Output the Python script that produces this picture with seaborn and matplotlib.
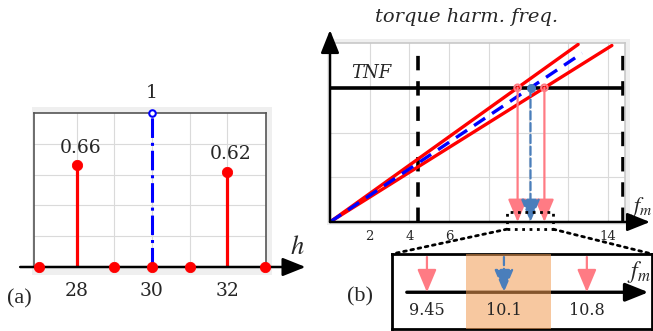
import matplotlib
matplotlib.use('Agg')
import matplotlib.pyplot as plt
import numpy as np
import pandas as pd
import seaborn as sns
from matplotlib.patches import Rectangle, ConnectionPatch

# panel (a): torque harmonic amplitudes
harmonics = [27, 28, 29, 30, 31, 32, 33]
amplitude = [0, 0.66, 0, 0, 0, 0.62, 0]
main_h = 30
main_amp = 1.0
h_ticks = [28, 30, 32]

# panel (b): harmonic frequency vs f_m
tnf = 3.0
f_cross = [9.45, 10.1, 10.8]          # lower, nominal, upper
f_end = [12.5, 12.7, 14.2]            # where each line stops
limits = [4.43, 14.76]
fm_ticks = [2, 4, 6, 14]
band = [9.78, 10.5]

W, H = 653, 331
RED = '#ff0000'
PINK = '#ff7b84'
BLUE = '#0000ff'
SBLUE = '#4a7ebb'

sns.set_theme(style='white')
plt.rcParams['font.family'] = ['DejaVu Serif']
plt.rcParams['mathtext.fontset'] = 'stix'

fig = plt.figure(figsize=(W / 100, H / 100), dpi=100)


def px_box(x0, y0, x1, y1):
    return [x0 / W, 1 - y1 / H, (x1 - x0) / W, (y1 - y0) / H]


def arrow(ax, start, end, color='black', lw=2, ls='-', hl=0.8, hw=0.35, ms=14, z=5, **kw):
    ax.annotate('', xy=end, xytext=start, annotation_clip=False,
                arrowprops=dict(arrowstyle='-|>,head_length={},head_width={}'.format(hl, hw),
                                color=color, lw=lw, ls=ls, shrinkA=0, shrinkB=0,
                                mutation_scale=ms), zorder=z, **kw)


# grey backdrops like the original export
for b in [px_box(32, 107, 272, 275), px_box(327, 39, 630, 225)]:
    fig.patches.append(Rectangle((b[0], b[1]), b[2], b[3], transform=fig.transFigure,
                                 facecolor='#efefef', edgecolor='none', zorder=-1))

# ---------------- (a) ----------------
ax_a = fig.add_axes(px_box(34, 113, 266, 267))
ax_a.set_xlim(26.867, 33.03)
ax_a.set_ylim(0, 1)
for h in harmonics[1:-1]:
    ax_a.axvline(h, color='#dadada', lw=0.8, zorder=0)
for y in [0.2, 0.4, 0.6, 0.8]:
    ax_a.axhline(y, color='#dadada', lw=0.8, zorder=0)
for s in ['left', 'right', 'top']:
    ax_a.spines[s].set_color('#555555')
    ax_a.spines[s].set_linewidth(1.2)
ax_a.spines['bottom'].set_visible(False)

df_a = pd.DataFrame({'h': harmonics, 'amp': amplitude})
ax_a.vlines(df_a['h'], 0, df_a['amp'], color=RED, lw=2.3, zorder=3)
ax_a.vlines([main_h], 0, [main_amp], color=BLUE, lw=2.2, linestyles='-.', zorder=3)
arrow(ax_a, (26.5, 0), (34.08, 0), lw=1.8, hl=1.0, hw=0.4, ms=14, z=4)
sns.scatterplot(data=df_a, x='h', y='amp', color=RED, s=55, edgecolor=RED,
                ax=ax_a, zorder=6, clip_on=False, legend=False)
ax_a.scatter([main_h], [main_amp], s=22, facecolor='white', edgecolor=BLUE,
             linewidth=1.5, zorder=6, clip_on=False)

for h, a in zip(harmonics, amplitude):
    if a > 0:
        ax_a.text(h + 0.1, a + 0.115, '{:.2f}'.format(a), ha='center', va='center', fontsize=13.5)
ax_a.text(main_h, main_amp + 0.13, '1', ha='center', va='center', fontsize=13.5)

ax_a.set_xticks(h_ticks)
ax_a.set_xticklabels([str(t) for t in h_ticks], fontsize=13.5)
ax_a.tick_params(axis='x', length=0, pad=11)
ax_a.set_yticks([])
ax_a.set_xlabel('')
ax_a.set_ylabel('')
ax_a.text(33.85, 0.13, '$h$', fontsize=19, ha='center', va='center')
ax_a.text(26.49, -0.21, '(a)', fontsize=16, ha='center', va='center',
          family='Liberation Serif')

# ---------------- (b) ----------------
ax_b = fig.add_axes(px_box(330, 43, 625, 222))
ax_b.set_xlim(0, 14.86)
ax_b.set_ylim(0, 4)
for x in range(2, 15, 2):
    ax_b.axvline(x, color='#dadada', lw=0.8, zorder=0)
for y in [1, 2]:
    ax_b.axhline(y, color='#dadada', lw=0.8, zorder=0)
for s in ['right', 'top']:
    ax_b.spines[s].set_color('#c8c8c8')
    ax_b.spines[s].set_linewidth(1.2)
ax_b.spines['left'].set_visible(False)
ax_b.spines['bottom'].set_visible(False)

ax_b.vlines(limits, 0, 3.8, color='black', lw=2.6, linestyles=(0, (4, 3)), zorder=2)
ax_b.hlines(tnf, 0, 14.86, color='black', lw=2.6, zorder=2)

for f, fe, name in zip(f_cross, f_end, ['lo', 'nom', 'hi']):
    xs = np.array([0, fe])
    df_l = pd.DataFrame({'fm': xs, 'freq': xs * tnf / f})
    if name == 'nom':
        sns.lineplot(data=df_l, x='fm', y='freq', color=BLUE, lw=2.4, ax=ax_b,
                     zorder=4, dashes=False, linestyle=(0, (4, 2.5)))
    else:
        sns.lineplot(data=df_l, x='fm', y='freq', color=RED, lw=2.4, ax=ax_b, zorder=3)

# projections down to the f_m axis
for f in [f_cross[0], f_cross[2]]:
    arrow(ax_b, (f, tnf), (f, 0), color=PINK, lw=1.6, hl=1.0, hw=0.42, ms=14, z=5)
arrow(ax_b, (f_cross[1], tnf), (f_cross[1], 0), color=SBLUE, lw=1.6, ls='--',
      hl=1.0, hw=0.42, ms=14, z=5)
ax_b.scatter([f_cross[0], f_cross[2]], [tnf, tnf], s=22, facecolor='none',
             edgecolor=PINK, linewidth=1.5, zorder=6)
ax_b.scatter([f_cross[1]], [tnf], s=30, color=SBLUE, zorder=6)

# axes arrows
arrow(ax_b, (0, 0), (16.12, 0), lw=1.8, hl=1.0, hw=0.4, ms=14, z=7)
arrow(ax_b, (0, 0), (0, 4.29), lw=1.8, hl=1.0, hw=0.4, ms=14, z=7)

ax_b.set_xticks(fm_ticks)
ax_b.set_xticklabels([str(t) for t in fm_ticks], fontsize=9.5)
ax_b.tick_params(axis='x', length=0, pad=6)
ax_b.set_yticks([])
ax_b.set_xlabel('')
ax_b.set_ylabel('')
ax_b.text(6.9, 4.58, 'torque harm. freq.', fontsize=14, style='italic',
          ha='center', va='center')
ax_b.text(2.1, 3.33, 'TNF', fontsize=13, style='italic', ha='center', va='center')
ax_b.text(16.25, 0.33, '$f_m$', fontsize=16, ha='right', va='center')

# zoom window
zx0, zx1, zy0, zy1 = 8.92, 11.24, -0.16, 0.22
ax_b.add_patch(Rectangle((zx0, zy0), zx1 - zx0, zy1 - zy0, fill=False, ls=':',
                         lw=2, edgecolor='black', clip_on=False, zorder=8))

# ---------------- inset ----------------
ax_in = fig.add_axes(px_box(392, 254, 652, 329))
ax_in.set_xlim(9.155, 11.35)
ax_in.set_ylim(0, 1)
ax_in.set_xticks([])
ax_in.set_yticks([])
for s in ax_in.spines.values():
    s.set_color('black')
    s.set_linewidth(2)

arrow(ax_in, (9.28, 0.49), (11.32, 0.49), lw=2.4, hl=1.0, hw=0.4, ms=14, z=2)
ax_in.axvspan(band[0], band[1], color='#f29c52', alpha=0.55, lw=0, zorder=3)
for f in [f_cross[0], f_cross[2]]:
    arrow(ax_in, (f, 0.96), (f, 0.49), color=PINK, lw=1.6, hl=1.0, hw=0.42, ms=14, z=5)
arrow(ax_in, (f_cross[1], 0.96), (f_cross[1], 0.49), color=SBLUE, lw=1.6, ls='--',
      hl=1.0, hw=0.42, ms=14, z=5)
for f in f_cross:
    ax_in.text(f, 0.25, str(f), fontsize=11.5, ha='center', va='center', zorder=6)
ax_in.text(11.24, 0.76, '$f_m$', fontsize=17, ha='center', va='center')
ax_in.text(-0.123, 0.43, '(b)', fontsize=16, ha='center', va='center',
           family='Liberation Serif', transform=ax_in.transAxes)

for xa, xb in [(zx0, 0), (zx1, 1)]:
    fig.add_artist(ConnectionPatch(xyA=(xa, zy0), coordsA=ax_b.transData,
                                   xyB=(xb, 1), coordsB=ax_in.transAxes,
                                   ls=':', lw=2, color='black'))

fig.savefig('out.png', dpi=100)
